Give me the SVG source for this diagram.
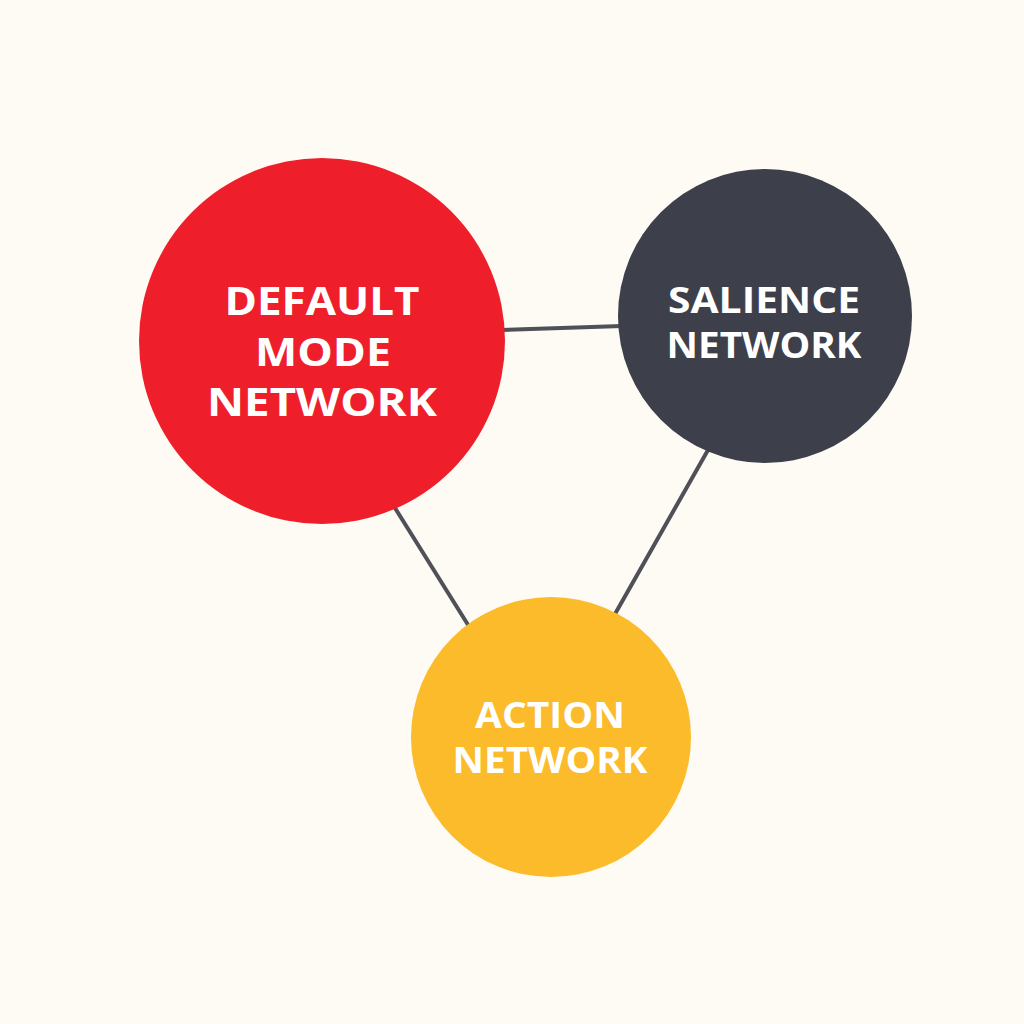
<svg xmlns="http://www.w3.org/2000/svg" width="1024" height="1024" viewBox="0 0 1024 1024">
<style>
.lbl{font-family:"Open Sans","Liberation Sans",sans-serif;font-weight:700;fill:#ffffff;text-anchor:middle}
.conn{stroke:#4f5058;stroke-width:4;stroke-linecap:round;fill:none}
</style>
<rect width="1024" height="1024" fill="#fdfbf3"/>
<g id="connectors">
<line class="conn" x1="500" y1="330" x2="622" y2="326"/>
<line class="conn" x1="395" y1="508" x2="470" y2="628"/>
<line class="conn" x1="708" y1="450" x2="615" y2="614"/>
</g>
<g id="dmn">
<circle cx="322" cy="341" r="183" fill="#ee1f2b"/>
<text class="lbl" font-size="40" x="322" y="315" textLength="195" lengthAdjust="spacingAndGlyphs">DEFAULT</text>
<text class="lbl" font-size="40" x="323" y="366" textLength="136" lengthAdjust="spacingAndGlyphs">MODE</text>
<text class="lbl" font-size="40" x="322" y="416" textLength="230" lengthAdjust="spacingAndGlyphs">NETWORK</text>
</g>
<g id="salience">
<circle cx="765" cy="316" r="147" fill="#3d3f4b"/>
<text class="lbl" font-size="36" x="764" y="313" textLength="192" lengthAdjust="spacingAndGlyphs">SALIENCE</text>
<text class="lbl" font-size="36" x="764" y="358" textLength="195" lengthAdjust="spacingAndGlyphs">NETWORK</text>
</g>
<g id="action">
<circle cx="551" cy="737" r="140" fill="#fbbb2a"/>
<text class="lbl" font-size="36" x="550" y="728" textLength="150" lengthAdjust="spacingAndGlyphs">ACTION</text>
<text class="lbl" font-size="36" x="550" y="773" textLength="195" lengthAdjust="spacingAndGlyphs">NETWORK</text>
</g>
</svg>
